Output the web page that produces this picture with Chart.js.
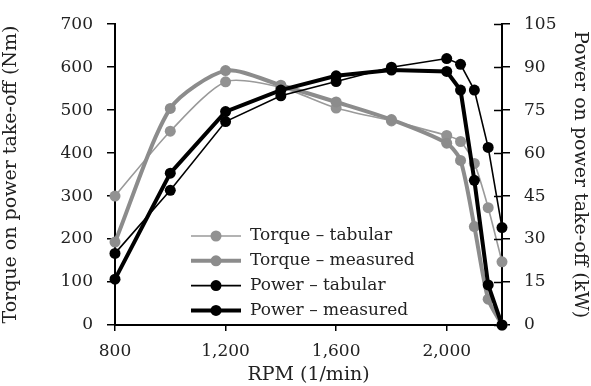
<!DOCTYPE html>
<html>
<head>
<meta charset="utf-8">
<script src="https://cdn.jsdelivr.net/npm/chart.js@4/dist/chart.umd.min.js"></script>
<style>
html,body{margin:0;padding:0;background:#fff;}
#box{width:591px;height:386px;}
</style>
</head>
<body>
<div id="box"><canvas id="torqueChart" width="591" height="386"></canvas></div>
<script>
var rpm = [800,1000,1200,1400,1600,1800,2000,2050,2100,2150,2200];
var torqueTabular  = [300,451,566,553,505,475,441,427,376,273,147];
var torqueMeasured = [193,504,592,558,519,478,423,383,229,60,0];
var powerTabular   = [25,47,71,80,85,90,93,91,82,62,34];
var powerMeasured  = [16,53,74.5,82,87,89,88.5,82,50.5,14,0];
var rpmTicks = [800,1200,1600,2000];
var seriesLabels = ["Torque \u2013 tabular","Torque \u2013 measured","Power \u2013 tabular","Power \u2013 measured"];

var serif = "'DejaVu Serif', 'Liberation Serif', serif";

function pts(ys){
var out = [];
for(var i=0;i<rpm.length;i++){
out.push({x:rpm[i], y:ys[i]});
}
return out;
}

/* legend drawn inside the plot + inner ticks on right axis */
var extras = {
id:"extras",
afterDraw:function(chart){
var ctx = chart.ctx;
var y1 = chart.scales.y1;
ctx.save();
ctx.strokeStyle = "#000";
ctx.lineWidth = 1.5;
y1.ticks.forEach(function(t){
var yy = Math.round(y1.getPixelForValue(t.value)) + 0.5;
ctx.beginPath();
ctx.moveTo(y1.left - 8, yy);
ctx.lineTo(y1.left, yy);
ctx.stroke();
});

var x0 = 191, x1 = 241, tx = 250, top = 236, step = 24.8;
seriesLabels.forEach(function(lbl, i){
var ds = chart.data.datasets.filter(function(d){ return d.label === lbl; })[0];
var yy = top + i*step;
ctx.strokeStyle = ds.borderColor;
ctx.lineWidth = ds.borderWidth;
ctx.beginPath();
ctx.moveTo(x0, yy);
ctx.lineTo(x1, yy);
ctx.stroke();
ctx.fillStyle = ds.pointBackgroundColor;
ctx.beginPath();
ctx.arc((x0+x1)/2, yy, 5.5, 0, Math.PI*2);
ctx.fill();
ctx.fillStyle = "#222";
ctx.font = "17px " + serif;
ctx.textBaseline = "middle";
ctx.textAlign = "left";
ctx.fillText(lbl, tx, yy);
});
ctx.restore();
}
};

var ctx = document.getElementById("torqueChart").getContext("2d");

new Chart(ctx,{
type:"line",
data:{
datasets:[
{label:seriesLabels[3], data:pts(powerMeasured), yAxisID:"y1", borderColor:"#000", pointBackgroundColor:"#000", borderWidth:4, pointRadius:5.5, pointBorderWidth:0, tension:0, clip:false, order:0},
{label:seriesLabels[2], data:pts(powerTabular), yAxisID:"y1", borderColor:"#000", pointBackgroundColor:"#000", borderWidth:1.6, pointRadius:5.5, pointBorderWidth:0, tension:0, clip:false, order:1},
{label:seriesLabels[1], data:pts(torqueMeasured), yAxisID:"y", borderColor:"#8c8c8c", pointBackgroundColor:"#8c8c8c", borderWidth:4, pointRadius:5.5, pointBorderWidth:0, tension:0.25, clip:false, order:2},
{label:seriesLabels[0], data:pts(torqueTabular), yAxisID:"y", borderColor:"#9a9a9a", pointBackgroundColor:"#929292", borderWidth:1.6, pointRadius:5.5, pointBorderWidth:0, tension:0.25, clip:false, order:3}
]
},
options:{
responsive:false,
animation:false,
layout:{padding:{top:20, left:0, right:0, bottom:0}},
plugins:{
legend:{display:false},
tooltip:{enabled:false}
},
scales:{
x:{
type:"linear",
min:800,
max:2200,
afterFit:function(s){ s.height = 61; },
afterBuildTicks:function(s){
s.ticks = rpmTicks.map(function(v){ return {value:v}; });
},
ticks:{
color:"#222",
padding:10,
font:{family:serif, size:17},
callback:function(v){ return v.toLocaleString("en-US"); }
},
grid:{display:true, drawOnChartArea:false, color:"#000", lineWidth:1.5, tickLength:6},
border:{display:true, color:"#000", width:2},
title:{display:true, text:"RPM (1/min)", color:"#222", font:{family:serif, size:19}, padding:{top:0, bottom:0}}
},
y:{
position:"left",
min:0,
max:700,
afterFit:function(s){ s.width = 115; },
ticks:{stepSize:100, color:"#222", padding:14, font:{family:serif, size:17}},
grid:{display:true, drawOnChartArea:false, color:"#000", lineWidth:1.5, tickLength:8},
border:{display:true, color:"#000", width:2},
title:{display:true, text:"Torque on power take-off (Nm)", color:"#222", font:{family:serif, size:19}, padding:{top:0, bottom:0}}
},
y1:{
position:"right",
min:0,
max:105,
afterFit:function(s){ s.width = 89; },
ticks:{stepSize:15, color:"#222", padding:14, font:{family:serif, size:17}},
grid:{display:true, drawOnChartArea:false, color:"#000", lineWidth:1.5, tickLength:8},
border:{display:true, color:"#000", width:2},
title:{display:true, text:"Power on power take-off (kW)", color:"#222", font:{family:serif, size:19}, padding:{top:0, bottom:0}}
}
}
},
plugins:[extras]
});
</script>
</body>
</html>
